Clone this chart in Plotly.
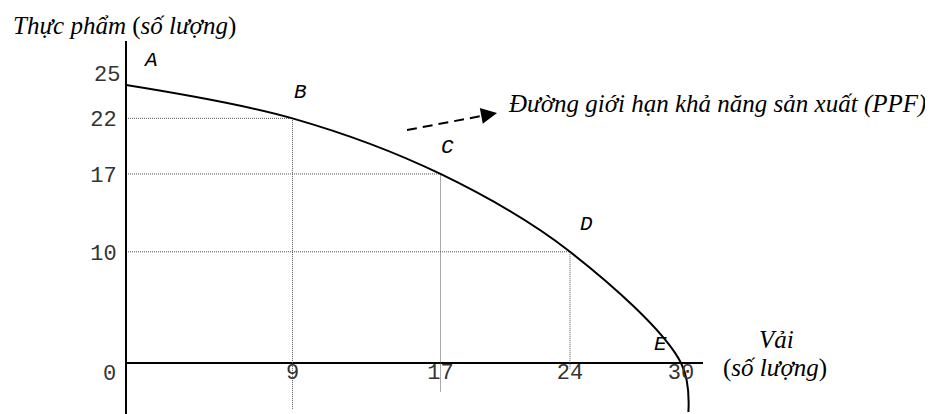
import plotly.graph_objects as go

# ---------------- data ----------------
point_names = ["A", "B", "C", "D", "E"]
cloth = [0, 9, 17, 24, 30]          # Vải (số lượng)
food = [25, 22, 17, 10, 0]          # Thực phẩm (số lượng)
# curve continues slightly below the horizontal axis after E
tail_cloth = [30.4]
tail_food = [-4.4]
# how far each dotted vertical guide (B, C, D) runs below the axis
guide_bottom = [-4.2, -2.6, -0.5]
x_ticks = [9, 17, 24, 30]
y_ticks = [22, 17, 10]
y_top_label = 25
origin_label = 0

# ---------------- layout geometry (window pixels) ----------------
OFF = 8                      # default page body margin
WIN_W, WIN_H = 933, 414
W, H = WIN_W - OFF, WIN_H - OFF
L, R, T, B = 126, 703, 41, 414   # plot area in window pixels
ORIGIN_PY = 363
SX = 18.5
SY = 11.12
X1 = (R - L) / SX
Y0 = -(B - ORIGIN_PY) / SY
Y1 = (ORIGIN_PY - T) / SY


def dx(p):
    return (p - L) / SX


def dy(p):
    return (ORIGIN_PY - p) / SY


def paper_x(p):
    return (p - L) / (R - L)


def paper_y(p):
    return (B - p) / (B - T)


serif = "Liberation Serif, Times New Roman, serif"
mono = "Liberation Mono, Courier New, monospace"

fig = go.Figure()

# dotted guides for B, C, D
for i, yb in zip([1, 2, 3], guide_bottom):
    fig.add_trace(go.Scatter(
        x=[0, cloth[i], cloth[i]], y=[food[i], food[i], yb],
        mode="lines", line=dict(color="#555555", width=1, dash="1px,1px"),
        hoverinfo="skip", showlegend=False))

# PPF curve
fig.add_trace(go.Scatter(
    x=cloth + tail_cloth, y=food + tail_food, mode="lines",
    line=dict(color="black", width=2, shape="spline", smoothing=1.0),
    hoverinfo="skip", showlegend=False))

annotations = []
# point letters
offsets = {"A": (24, 25), "B": (8, 26), "C": (7, 26), "D": (16, 27), "E": (-21, 19)}
for n, xv, yv in zip(point_names, cloth, food):
    ox, oy = offsets[n]
    annotations.append(dict(x=xv, y=yv, xref="x", yref="y", text=f"<i>{n}</i>",
                            showarrow=False, xshift=ox, yshift=oy,
                            xanchor="center", yanchor="middle",
                            font=dict(family=mono, size=21, color="black")))

# y label 25 and origin 0
annotations.append(dict(x=0, y=y_top_label, xref="x", yref="y", text=str(y_top_label),
                        showarrow=False, xanchor="right", yanchor="middle", xshift=-4, yshift=10,
                        font=dict(family=mono, size=22, color="#333")))
annotations.append(dict(x=0, y=origin_label, xref="x", yref="y", text=str(origin_label),
                        showarrow=False, xanchor="right", yanchor="middle", xshift=-8, yshift=-11,
                        font=dict(family=mono, size=22, color="#333")))

# axis titles
annotations.append(dict(x=paper_x(11), y=paper_y(26), xref="paper", yref="paper",
                        xanchor="left", yanchor="middle",
                        text="<i>Thực phẩm</i> (<i>số lượng</i>)", showarrow=False,
                        font=dict(family=serif, size=25, color="black")))
annotations.append(dict(x=paper_x(776), y=paper_y(339), xref="paper", yref="paper",
                        xanchor="center", yanchor="middle", text="<i>Vải</i>", showarrow=False,
                        font=dict(family=serif, size=25, color="black")))
annotations.append(dict(x=paper_x(775), y=paper_y(368), xref="paper", yref="paper",
                        xanchor="center", yanchor="middle", text="(<i>số lượng</i>)",
                        showarrow=False,
                        font=dict(family=serif, size=25, color="black")))

# PPF callout
annotations.append(dict(x=paper_x(506), y=paper_y(104), xref="paper", yref="paper",
                        xanchor="left", yanchor="middle",
                        text="<i>Đường giới hạn khả năng sản xuất (PPF)</i>", showarrow=False,
                        font=dict(family=serif, size=25, color="black")))
annotations.append(dict(x=dx(497), y=dy(113), xref="x", yref="y", text="",
                        showarrow=True, arrowhead=2, arrowsize=1.6, arrowwidth=2,
                        arrowcolor="black", ax=-16, ay=3))

shapes = [dict(type="line", xref="x", yref="y", x0=dx(407), y0=dy(130),
               x1=dx(484), y1=dy(115.5), line=dict(color="black", width=2, dash="10px,6px"))]

fig.update_layout(
    width=W, height=H,
    margin=dict(l=L - OFF, r=W - (R - OFF), t=T - OFF, b=H - (B - OFF), pad=0),
    paper_bgcolor="white", plot_bgcolor="white",
    showlegend=False,
    annotations=annotations, shapes=shapes,
    xaxis=dict(range=[0, X1], anchor="free", position=(B - (ORIGIN_PY - 7)) / (B - T),
               showline=False,
               showgrid=False, zeroline=False, ticks="",
               tickvals=x_ticks, ticktext=[str(v) for v in x_ticks],
               tickfont=dict(family=mono, size=22, color="#333"),
               automargin=False, fixedrange=True),
    yaxis=dict(range=[Y0, Y1], anchor="free", position=0,
               showline=True, linecolor="black", linewidth=2,
               showgrid=False, zeroline=True, zerolinecolor="black", zerolinewidth=2,
               ticks="",
               tickvals=y_ticks, ticktext=[str(v) for v in y_ticks],
               tickfont=dict(family=mono, size=22, color="#333"),
               ticklabelstandoff=4,
               automargin=False, fixedrange=True),
)

fig.write_html("out.html", config={"displayModeBar": False})
